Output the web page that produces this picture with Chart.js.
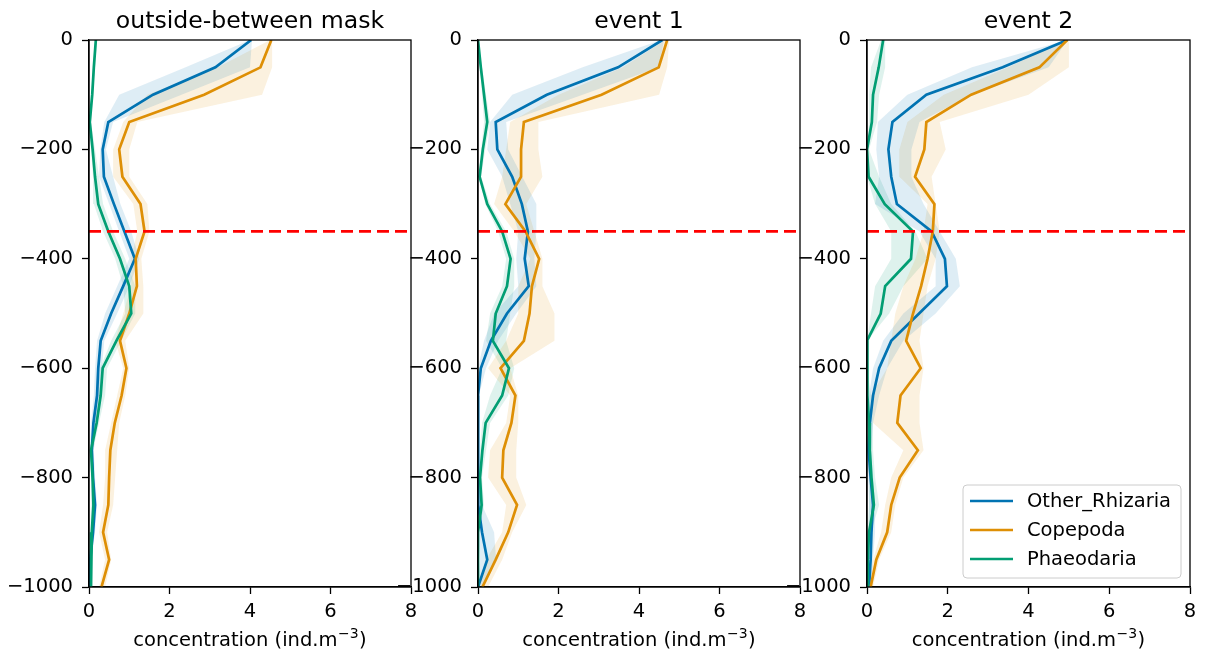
<!DOCTYPE html>
<html><head><meta charset="utf-8">
<script src="https://cdn.jsdelivr.net/npm/chart.js@4/dist/chart.umd.min.js"></script>
<style>
html,body{margin:0;padding:0;background:#fff;width:1206px;height:655px;overflow:hidden}
canvas{position:absolute;top:0}
</style></head><body>
<canvas id="c0"></canvas><canvas id="c1"></canvas><canvas id="c2"></canvas>
<script>
// ---------- data ----------
const depths = [0,-50,-100,-150,-200,-250,-300,-350,-400,-450,-500,-550,-600,-650,-700,-750,-800,-850,-900,-950,-1000];
const panelTitles = ['outside-between mask','event 1','event 2'];
const speciesNames = ['Other_Rhizaria','Copepoda','Phaeodaria'];
const xTickValues = [0,2,4,6,8];
const yTickValues = [0,-200,-400,-600,-800,-1000];
const maskDepth = -350;
const xLabel = 'concentration (ind.m';
const xLabelSup = '\u22123';

// panel 1 : outside-between mask
const outRhizMean = [4.03,3.14,1.59,0.48,0.34,0.37,0.62,0.88,1.14,0.85,0.55,0.29,0.23,0.20,0.11,0.07,0.10,0.15,0.10,0.03,0.03];
const outRhizLow  = [4.00,2.40,0.75,0.38,0.28,0.25,0.50,0.75,1.00,0.70,0.40,0.20,0.15,0.12,0.05,0.02,0.05,0.08,0.05,0.00,0.00];
const outRhizHigh = [4.05,4.00,2.30,0.60,0.42,0.60,0.78,1.05,1.25,1.00,0.70,0.38,0.32,0.28,0.20,0.12,0.15,0.20,0.15,0.06,0.06];
const outCopeMean = [4.53,4.26,2.86,1.00,0.75,0.83,1.28,1.38,1.16,1.19,1.00,0.77,0.93,0.81,0.64,0.53,0.50,0.48,0.35,0.50,0.31];
const outCopeLow  = [4.50,3.20,1.45,0.85,0.60,0.60,1.10,1.20,1.05,1.05,0.85,0.65,0.85,0.70,0.55,0.40,0.40,0.35,0.25,0.40,0.25];
const outCopeHigh = [4.55,4.55,4.30,1.20,1.00,1.00,1.45,1.50,1.30,1.35,1.35,0.90,1.00,0.90,0.75,0.70,0.65,0.60,0.45,0.55,0.40];
const outPhaeMean = [0.17,0.12,0.08,0.02,0.09,0.15,0.23,0.48,0.77,1.00,1.05,0.68,0.34,0.29,0.19,0.05,0.09,0.11,0.07,0.05,0.05];
const outPhaeLow  = [0.15,0.10,0.05,0.00,0.05,0.10,0.12,0.35,0.65,0.85,0.90,0.55,0.28,0.20,0.10,0.02,0.05,0.05,0.03,0.03,0.03];
const outPhaeHigh = [0.20,0.15,0.10,0.05,0.15,0.25,0.35,0.60,0.90,1.15,1.15,0.80,0.45,0.40,0.25,0.10,0.12,0.15,0.10,0.08,0.08];

// panel 2 : event 1
const ev1RhizMean = [4.58,3.48,1.71,0.44,0.48,0.85,1.09,1.24,1.16,1.26,0.72,0.32,0.07,0.00,0.00,0.00,0.00,0.02,0.10,0.23,0.00];
const ev1RhizLow  = [4.55,2.60,0.85,0.30,0.23,0.60,0.80,1.00,0.95,1.00,0.40,0.15,0.00,0.00,0.00,0.00,0.00,0.00,0.00,0.05,0.00];
const ev1RhizHigh = [4.62,4.50,2.60,0.70,0.75,1.10,1.45,1.45,1.40,1.45,0.95,0.50,0.20,0.02,0.00,0.00,0.00,0.10,0.40,0.45,0.10];
const ev1CopeMean = [4.70,4.49,3.07,1.14,1.07,1.07,0.68,1.18,1.52,1.34,1.28,1.14,0.56,0.93,0.83,0.63,0.60,0.97,0.75,0.44,0.11];
const ev1CopeLow  = [4.65,3.60,2.00,0.80,0.70,0.60,0.40,0.90,1.30,1.00,1.00,0.70,0.25,0.80,0.70,0.30,0.25,0.70,0.60,0.20,0.00];
const ev1CopeHigh = [4.75,4.70,4.50,1.50,1.50,1.60,1.20,1.40,1.60,1.60,1.90,1.90,0.80,1.00,1.00,0.95,0.95,1.20,0.85,0.60,0.25];
const ev1PhaeMean = [0.00,0.07,0.15,0.23,0.12,0.04,0.23,0.60,0.81,0.72,0.44,0.37,0.77,0.60,0.19,0.11,0.05,0.09,0.00,0.00,0.00];
const ev1PhaeLow  = [0.00,0.05,0.10,0.15,0.08,0.02,0.18,0.50,0.70,0.60,0.30,0.20,0.60,0.30,0.10,0.05,0.02,0.03,0.00,0.00,0.00];
const ev1PhaeHigh = [0.00,0.10,0.20,0.30,0.18,0.08,0.30,0.70,0.90,0.90,0.80,0.70,0.90,0.75,0.30,0.20,0.10,0.15,0.02,0.00,0.00];

// panel 3 : event 2
const ev2RhizMean = [4.96,3.36,1.47,0.63,0.53,0.60,0.74,1.60,1.93,1.98,1.29,0.60,0.30,0.15,0.07,0.04,0.09,0.15,0.11,0.09,0.05];
const ev2RhizLow  = [4.95,2.60,1.00,0.27,0.23,0.30,0.20,1.30,1.70,1.70,0.90,0.40,0.15,0.05,0.00,0.00,0.03,0.05,0.05,0.03,0.00];
const ev2RhizHigh = [4.97,4.50,2.60,1.30,1.10,1.10,1.40,1.80,2.20,2.30,1.70,0.90,0.50,0.30,0.15,0.10,0.15,0.20,0.20,0.15,0.10];
const ev2CopeMean = [4.96,4.27,2.58,1.47,1.42,1.19,1.67,1.63,1.50,1.34,1.14,0.97,1.33,0.83,0.75,1.26,0.81,0.60,0.50,0.23,0.09];
const ev2CopeLow  = [4.90,3.50,1.90,1.00,0.80,0.80,1.50,1.40,1.20,0.90,0.70,0.60,0.50,0.10,0.15,0.90,0.60,0.45,0.35,0.15,0.05];
const ev2CopeHigh = [5.00,5.00,4.00,1.80,1.95,1.60,1.70,1.80,1.70,1.50,1.40,1.30,1.40,1.30,1.30,1.40,0.90,0.70,0.60,0.30,0.15];
const ev2PhaeMean = [0.40,0.29,0.15,0.12,0.00,0.04,0.44,1.14,1.09,0.45,0.34,0.00,0.00,0.02,0.05,0.07,0.11,0.17,0.05,0.02,0.02];
const ev2PhaeLow  = [0.35,0.10,0.05,0.05,0.00,0.00,0.20,0.60,0.60,0.20,0.10,0.00,0.00,0.00,0.00,0.00,0.05,0.05,0.00,0.00,0.00];
const ev2PhaeHigh = [0.45,0.45,0.30,0.25,0.05,0.30,0.60,1.20,1.50,0.90,0.55,0.00,0.00,0.10,0.15,0.15,0.20,0.30,0.10,0.05,0.05];

// ---------- styling ----------
const FONT = "'DejaVu Sans', sans-serif";
const lineColors = ['#0173B2','#DE8F05','#029E73'];
const bandColors = ['rgba(1,115,178,0.13)','rgba(222,143,5,0.13)','rgba(2,158,115,0.13)'];
const panelSeries = [
  [[outRhizMean,outRhizLow,outRhizHigh],[outCopeMean,outCopeLow,outCopeHigh],[outPhaeMean,outPhaeLow,outPhaeHigh]],
  [[ev1RhizMean,ev1RhizLow,ev1RhizHigh],[ev1CopeMean,ev1CopeLow,ev1CopeHigh],[ev1PhaeMean,ev1PhaeLow,ev1PhaeHigh]],
  [[ev2RhizMean,ev2RhizLow,ev2RhizHigh],[ev2CopeMean,ev2CopeLow,ev2CopeHigh],[ev2PhaeMean,ev2PhaeLow,ev2PhaeHigh]]
];
const axisLefts = [89,478,867];
const axisRights = [411,800,1190];
const Y_AXIS_W = 89, RIGHT_PAD = 20, TOP_PAD = 40, X_AXIS_H = 68;

const pts = arr => arr.map((v,i)=>({x:v, y:depths[i]}));
const fmtTick = v => (v < 0 ? '\u2212' + Math.abs(v) : String(v));

function decorPlugin(idx){
  return {
    id:'decor'+idx,
    afterDraw(chart){
      const ctx = chart.ctx, a = chart.chartArea;
      ctx.save();
      // frame
      ctx.strokeStyle = '#000'; ctx.lineWidth = 1.3;
      ctx.strokeRect(a.left, a.top, a.right - a.left, a.bottom - a.top);
      // title
      ctx.fillStyle = '#000';
      ctx.font = "23.6px " + FONT;
      ctx.textAlign = 'center'; ctx.textBaseline = 'alphabetic';
      const cx = (a.left + a.right)/2;
      ctx.fillText(panelTitles[idx], cx, 28);
      // x label with superscript
      ctx.textAlign = 'left';
      ctx.font = "19.5px " + FONT;
      const w1 = ctx.measureText(xLabel).width;
      const w3 = ctx.measureText(')').width;
      ctx.font = "14px " + FONT;
      const w2 = ctx.measureText(xLabelSup).width;
      const total = w1 + w2 + w3 + 1;
      let x0 = cx - total/2;
      ctx.font = "19.5px " + FONT;
      ctx.fillText(xLabel, x0, 646);
      ctx.font = "14px " + FONT;
      ctx.fillText(xLabelSup, x0 + w1 + 0.5, 638);
      ctx.font = "19.5px " + FONT;
      ctx.fillText(')', x0 + w1 + w2 + 1, 646);
      // legend in last panel
      if (idx === 2) {
        const bx = 963 - (axisLefts[2]-Y_AXIS_W), by = 485, bw = 218, bh = 93;
        ctx.beginPath();
        ctx.roundRect(bx, by, bw, bh, 4);
        ctx.fillStyle = 'rgba(255,255,255,0.8)';
        ctx.fill();
        ctx.strokeStyle = '#cccccc'; ctx.lineWidth = 1;
        ctx.stroke();
        ctx.font = "19.5px " + FONT;
        ctx.textBaseline = 'middle';
        speciesNames.forEach((nm,i)=>{
          const yy = 501 + i*29;
          ctx.beginPath();
          ctx.strokeStyle = lineColors[i]; ctx.lineWidth = 2.7;
          ctx.moveTo(bx+7, yy); ctx.lineTo(bx+50, yy); ctx.stroke();
          ctx.fillStyle = '#000';
          ctx.fillText(nm, bx+64, yy+1);
        });
      }
      ctx.restore();
    }
  };
}

function makePanel(idx){
  const L = axisLefts[idx], R = axisRights[idx];
  const canvas = document.getElementById('c'+idx);
  const left = L - Y_AXIS_W;
  const width = (R - L) + Y_AXIS_W + RIGHT_PAD;
  canvas.style.left = left + 'px';
  canvas.width = width; canvas.height = 655;
  canvas.style.width = width + 'px'; canvas.style.height = '655px';

  const datasets = [];
  panelSeries[idx].forEach((s,k)=>{
    const [mean, low, high] = s;
    datasets.push({label:speciesNames[k]+' low', data:pts(low), borderWidth:0, borderColor:'rgba(0,0,0,0)', pointRadius:0, fill:false, order:10});
    datasets.push({label:speciesNames[k]+' high', data:pts(high), borderWidth:0, borderColor:'rgba(0,0,0,0)', pointRadius:0, fill:'-1', backgroundColor:bandColors[k], order:10});
  });
  panelSeries[idx].forEach((s,k)=>{
    datasets.push({label:speciesNames[k], data:pts(s[0]), borderColor:lineColors[k], borderWidth:2.7, pointRadius:0, fill:false, order:5-k});
  });
  datasets.push({label:'mask', data:[{x:xTickValues[0],y:maskDepth},{x:xTickValues[xTickValues.length-1],y:maskDepth}],
    borderColor:'#ff0000', borderWidth:2.8, borderDash:[12,6], pointRadius:0, fill:false, order:0});

  new Chart(canvas, {
    type:'line',
    data:{datasets},
    options:{
      responsive:false, animation:false, indexAxis:'y',
      layout:{padding:{left:0, right:RIGHT_PAD, top:TOP_PAD, bottom:0}},
      elements:{line:{tension:0}},
      plugins:{legend:{display:false}, tooltip:{enabled:false}, title:{display:false}},
      scales:{
        x:{type:'linear', position:'bottom', min:xTickValues[0], max:xTickValues[xTickValues.length-1],
           afterFit(s){ s.height = X_AXIS_H; },
           afterBuildTicks(s){ s.ticks = xTickValues.map(v=>({value:v})); },
           ticks:{color:'#000', font:{family:FONT, size:19.5}, padding:6, maxRotation:0, callback:v=>fmtTick(v)},
           grid:{drawOnChartArea:false, drawTicks:true, tickLength:7, color:'#000', tickWidth:1.3},
           border:{display:true, color:'#000', width:1.3}},
        y:{type:'linear', position:'left', min:yTickValues[yTickValues.length-1], max:yTickValues[0],
           afterFit(s){ s.width = Y_AXIS_W; },
           afterBuildTicks(s){ s.ticks = yTickValues.slice().reverse().map(v=>({value:v})); },
           ticks:{color:'#000', font:{family:FONT, size:19.5}, padding:9, callback:v=>fmtTick(v)},
           grid:{drawOnChartArea:false, drawTicks:true, tickLength:7, color:'#000', tickWidth:1.3},
           border:{display:true, color:'#000', width:1.3}}
      }
    },
    plugins:[decorPlugin(idx)]
  });
}
[0,1,2].forEach(makePanel);
</script>
</body></html>
